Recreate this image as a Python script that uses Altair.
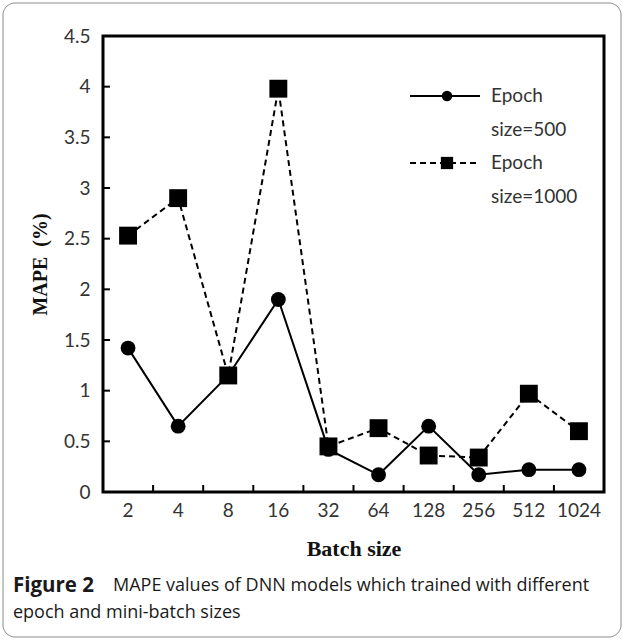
import altair as alt
import pandas as pd

# ---- data ----
batch_sizes = ["2", "4", "8", "16", "32", "64", "128", "256", "512", "1024"]
mape_epoch_500 = [1.42, 0.65, 1.15, 1.90, 0.42, 0.17, 0.65, 0.17, 0.22, 0.22]
mape_epoch_1000 = [2.53, 2.90, 1.15, 3.98, 0.45, 0.63, 0.36, 0.34, 0.97, 0.60]
y_tick_values = [0, 0.5, 1, 1.5, 2, 2.5, 3, 3.5, 4, 4.5]
series_names = ["Epoch size=500", "Epoch size=1000"]
legend_line1 = ["Epoch", "Epoch"]
legend_line2 = ["size=500", "size=1000"]
x_title = "Batch size"
y_title = "MAPE\u00a0\u00a0(%)"
caption_bold = ["Figure 2"]
caption_line1 = ["MAPE values of DNN models which trained with different"]
caption_line2 = ["epoch and mini-batch sizes"]

W, H = 501, 456

df = pd.DataFrame({
    "batch": batch_sizes * 2,
    "mape": mape_epoch_500 + mape_epoch_1000,
    "series": [series_names[0]] * len(batch_sizes) + [series_names[1]] * len(batch_sizes),
})
legend_df = pd.DataFrame({"series": series_names, "line1": legend_line1, "line2": legend_line2})
xtick_df = pd.DataFrame({"batch": batch_sizes[1:]})
ytick_df = pd.DataFrame({"mape": y_tick_values[1:-1]})
caption_df = pd.DataFrame({"bold": caption_bold, "l1": caption_line1, "l2": caption_line2})

x_scale = alt.Scale(type="band", domain=batch_sizes, paddingInner=0, paddingOuter=0)
y_scale = alt.Scale(domain=[0, 4.5], nice=False, zero=True)

x_axis = alt.Axis(
    title=x_title, ticks=False, tickSize=0, domain=False, grid=False, labelAngle=0,
    labelPadding=9, labelFont="Lato", labelFontSize=19, labelColor="#333",
    titleFont="Liberation Serif", titleFontWeight="bold", titleFontSize=22, titleColor="#111",
    titleX=W / 2, titleY=56, titleBaseline="middle", titleAlign="center",
)
y_axis = alt.Axis(
    title=y_title, values=y_tick_values, format="~g", ticks=False, tickSize=0, domain=False,
    grid=False, labelPadding=13, labelFont="Lato", labelFontSize=19, labelColor="#333",
    titleFont="Liberation Serif", titleFontWeight="bold", titleFontSize=20, titleColor="#111",
    titleX=-63, titleY=H / 2, titleBaseline="middle", titleAlign="center", titleAngle=-90,
)


def X(band_pos=0.5):
    return alt.X("batch:N", sort=batch_sizes, scale=x_scale, axis=x_axis, bandPosition=band_pos)


def Y():
    return alt.Y("mape:Q", scale=y_scale, axis=y_axis)


base = alt.Chart(df)

line500 = base.transform_filter(alt.datum.series == series_names[0]).mark_line(
    color="black", strokeWidth=2).encode(x=X(), y=Y())
pts500 = base.transform_filter(alt.datum.series == series_names[0]).mark_point(
    shape="circle", filled=True, color="black", opacity=1, size=220).encode(x=X(), y=Y())
line1000 = base.transform_filter(alt.datum.series == series_names[1]).mark_line(
    color="black", strokeWidth=2, strokeDash=[6, 4]).encode(x=X(), y=Y())
pts1000 = base.transform_filter(alt.datum.series == series_names[1]).mark_point(
    shape="square", filled=True, color="black", opacity=1, size=320).encode(x=X(), y=Y())

# inward tick marks
xticks = alt.Chart(xtick_df).mark_rule(color="black", strokeWidth=2).encode(
    x=X(0), y=alt.value(H), y2=alt.value(H - 7))
yticks = alt.Chart(ytick_df).mark_rule(color="black", strokeWidth=2).encode(
    y=Y(), x=alt.value(0), x2=alt.value(7))

# legend (inside plot, top right)
LX0, LX1, LXM, LXT = 307, 377, 344, 388
rows = [(0, 60, 94), (1, 127, 161)]
legend_layers = []
for i, ysym, y2 in rows:
    sub = alt.Chart(legend_df).transform_filter(alt.datum.series == series_names[i])
    rule_kwargs = dict(color="black", strokeWidth=2)
    if i == 1:
        rule_kwargs["strokeDash"] = [6, 4]
    legend_layers.append(sub.mark_rule(**rule_kwargs).encode(
        x=alt.value(LX0), x2=alt.value(LX1), y=alt.value(ysym)))
    legend_layers.append(sub.mark_point(
        shape="circle" if i == 0 else "square", filled=True, color="black", opacity=1,
        size=110 if i == 0 else 150).encode(x=alt.value(LXM), y=alt.value(ysym)))
    legend_layers.append(sub.mark_text(
        align="left", baseline="middle", font="Lato", fontSize=19, color="#333").encode(
        text="line1:N", x=alt.value(LXT), y=alt.value(ysym)))
    legend_layers.append(sub.mark_text(
        align="left", baseline="middle", font="Lato", fontSize=19, color="#333").encode(
        text="line2:N", x=alt.value(LXT), y=alt.value(y2)))

# caption
cap = alt.Chart(caption_df)
cap_bold = cap.mark_text(align="left", baseline="middle", font="Open Sans", fontSize=20.5,
                         fontWeight="bold", color="#1a1a1a").encode(
    text="bold:N", x=alt.value(-90), y=alt.value(550))
cap_l1 = cap.mark_text(align="left", baseline="middle", font="Open Sans", fontSize=18,
                       color="#1a1a1a").encode(text="l1:N", x=alt.value(10), y=alt.value(550))
cap_l2 = cap.mark_text(align="left", baseline="middle", font="Open Sans", fontSize=18,
                       color="#1a1a1a").encode(text="l2:N", x=alt.value(-90), y=alt.value(577))

# rounded outer border
border = cap.mark_rect(fill="transparent", stroke="#8a8a8a", strokeWidth=1,
                       cornerRadius=12).encode(
    x=alt.value(-100), x2=alt.value(W + 17), y=alt.value(-33), y2=alt.value(H + 145))

chart = alt.layer(
    border, line1000, line500, pts1000, pts500, xticks, yticks, *legend_layers,
    cap_bold, cap_l1, cap_l2,
).properties(
    width=W, height=H,
    autosize=alt.AutoSizeParams(type="none"),
    padding={"left": 103, "top": 36, "right": 20, "bottom": 148},
).configure_view(
    stroke="black", strokeWidth=3, fill="white",
)

chart.save("out.html", embed_options={"renderer": "svg", "actions": False})
